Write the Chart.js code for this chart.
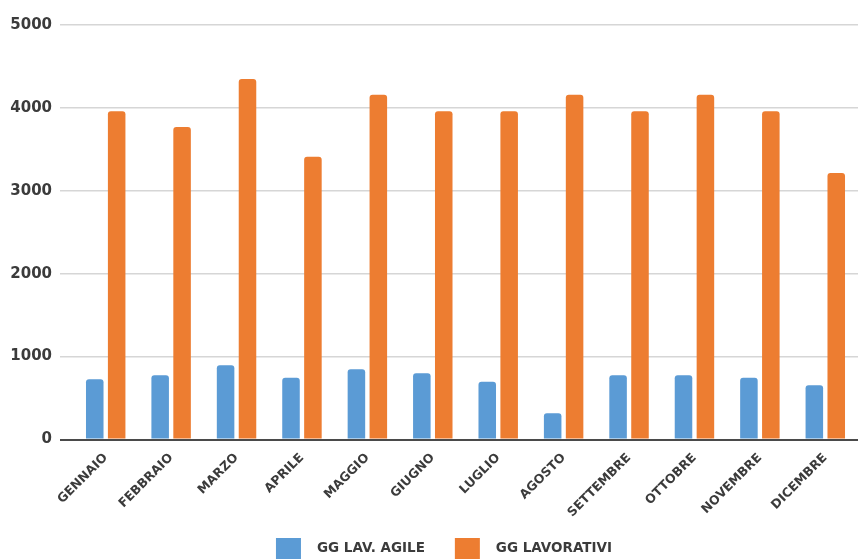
<!DOCTYPE html>
<html>
<head>
<meta charset="utf-8">
<script src="https://cdn.jsdelivr.net/npm/chart.js@4.4.0/dist/chart.umd.min.js"></script>
<style>
  html, body { margin: 0; padding: 0; background: #ffffff; overflow: hidden; }
  #wrap { width: 858px; height: 559px; overflow: hidden; }
</style>
</head>
<body>
<div id="wrap"><canvas id="c" width="858" height="559"></canvas></div>
<script>
const months = ["GENNAIO", "FEBBRAIO", "MARZO", "APRILE", "MAGGIO", "GIUGNO", "LUGLIO", "AGOSTO", "SETTEMBRE", "OTTOBRE", "NOVEMBRE", "DICEMBRE"];
const seriesNames = ["GG LAV. AGILE", "GG LAVORATIVI"];
const ggLavAgile = [727, 775, 896, 746, 848, 800, 698, 316, 775, 775, 746, 655];
const ggLavorativi = [3960, 3770, 4350, 3410, 4160, 3960, 3960, 4160, 3960, 4160, 3960, 3215];
const yTicks = [0, 1000, 2000, 3000, 4000, 5000];

const textColor = "#3b3b3b";
const fontFamily = "'DejaVu Sans', sans-serif";

// Bottom legend drawn from the chart's own datasets (box, gap, text; items centred)
const bottomLegend = {
  id: "bottomLegend",
  afterDraw(chart, args, opts) {
    const ctx = chart.ctx;
    ctx.save();
    ctx.font = "bold " + opts.fontSize + "px " + fontFamily;
    ctx.textBaseline = "middle";
    ctx.textAlign = "left";
    const items = chart.data.datasets.map(ds => ({
      label: ds.label, color: ds.backgroundColor,
      w: opts.boxW + opts.gap + ctx.measureText(ds.label).width
    }));
    const total = items.reduce((s, it) => s + it.w, 0) + opts.itemGap * (items.length - 1);
    let x = opts.centerX - total / 2;
    items.forEach(it => {
      ctx.fillStyle = it.color;
      ctx.fillRect(x, opts.top, opts.boxW, opts.boxH);
      ctx.fillStyle = textColor;
      ctx.fillText(it.label, x + opts.boxW + opts.gap, opts.top + opts.boxH / 2);
      x += it.w + opts.itemGap;
    });
    ctx.restore();
  }
};

new Chart(document.getElementById("c"), {
  type: "bar",
  data: {
    labels: months,
    datasets: [
      {
        label: seriesNames[0],
        data: ggLavAgile,
        backgroundColor: "#5b9bd5",
        borderRadius: 3,
        borderSkipped: "start",
        categoryPercentage: 0.67,
        barPercentage: 0.8
      },
      {
        label: seriesNames[1],
        data: ggLavorativi,
        backgroundColor: "#ed7d31",
        borderRadius: 3,
        borderSkipped: "start",
        categoryPercentage: 0.67,
        barPercentage: 0.8
      }
    ]
  },
  plugins: [bottomLegend],
  options: {
    responsive: false,
    animation: false,
    layout: { padding: { left: 8, right: 0, top: 25, bottom: 33.5 } },
    plugins: {
      tooltip: { enabled: false },
      legend: { display: false },
      bottomLegend: { centerX: 444, top: 538, boxW: 25, boxH: 21, gap: 16, itemGap: 30, fontSize: 13.5 }
    },
    scales: {
      x: {
        afterFit: (scale) => { scale.height = 86; },
        grid: { display: false },
        border: { display: false },
        ticks: {
          autoSkip: false,
          minRotation: 45,
          maxRotation: 45,
          padding: 3,
          color: textColor,
          font: { family: fontFamily, size: 12.5, weight: "bold" }
        }
      },
      y: {
        min: 0,
        max: 5000,
        afterBuildTicks: (scale) => { scale.ticks = yTicks.map(v => ({ value: v })); },
        afterFit: (scale) => { scale.width = 65; },
        border: { display: false },
        grid: {
          tickLength: 13,
          color: (ctx) => ctx.tick && ctx.tick.value === 0 ? "#4a4a4a" : "#d6d6d6",
          lineWidth: (ctx) => ctx.tick && ctx.tick.value === 0 ? 2 : 1.5
        },
        ticks: {
          padding: 8,
          color: textColor,
          callback: (value) => String(value),
          font: { family: fontFamily, size: 15, weight: "bold" }
        }
      }
    }
  }
});
</script>
</body>
</html>
